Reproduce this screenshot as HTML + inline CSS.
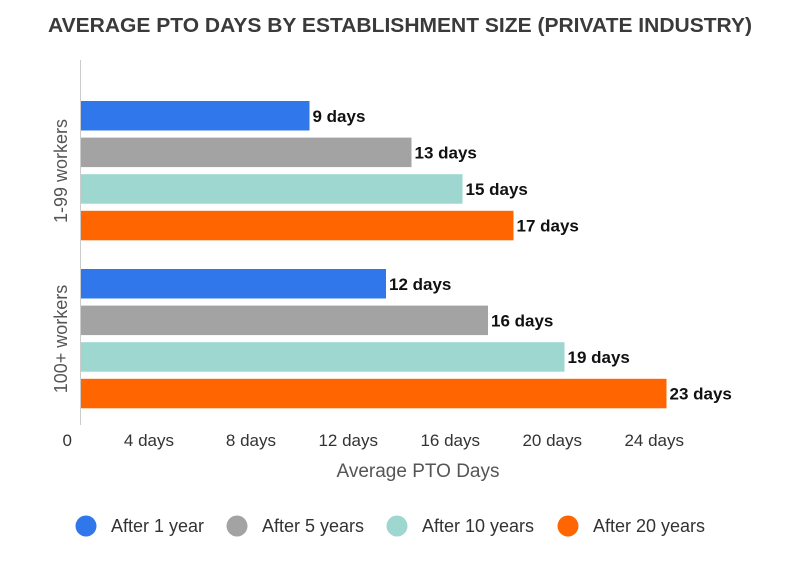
<!DOCTYPE html>
<html><head><meta charset="utf-8"><style>
body{margin:0;background:#fff;}
svg text{font-family:"Liberation Sans",sans-serif;}
</style></head><body>
<svg id="chart" width="800" height="557" viewBox="0 0 800 557">
<text x="400" y="32" text-anchor="middle" font-size="20" font-weight="bold" fill="#3a3a3a" textLength="704" lengthAdjust="spacingAndGlyphs">AVERAGE PTO DAYS BY ESTABLISHMENT SIZE (PRIVATE INDUSTRY)</text>
<line x1="80.5" y1="60" x2="80.5" y2="425" stroke="#ccc"/>
<g id="bars"></g>
<g id="ticks"></g>
<text x="418" y="477" text-anchor="middle" font-size="19" fill="#555">Average PTO Days</text>
<g id="legend"></g>
</svg>
<script>
const groups = ["1-99 workers", "100+ workers"];
const seriesNames = ["After 1 year", "After 5 years", "After 10 years", "After 20 years"];
const small = [9, 13, 15, 17];
const large = [12, 16, 19, 23];
const tickVals = [0, 4, 8, 12, 16, 20, 24];
const tickLabels = ["0", "4 days", "8 days", "12 days", "16 days", "20 days", "24 days"];
const colors = ["#2F77EB", "#A3A3A3", "#9DD7D0", "#FF6500"];
const ns = "http://www.w3.org/2000/svg";
const x0 = 80, pxPerDay = 25.5;
function xs(v){return x0 + v*pxPerDay;}
const groupTop = [101, 269], step = 36.6, bh = 29.5;
const seriesData = [small, large];
const bars = document.getElementById('bars');
function mk(tag, attrs, parent){const e=document.createElementNS(ns,tag);for(const k in attrs)e.setAttribute(k,attrs[k]);parent.appendChild(e);return e;}
groups.forEach((g, gi) => {
  const lbl = mk('text', {x:0,y:0,'text-anchor':'middle','font-size':18,fill:'#555',transform:`translate(67,${groupTop[gi]+70}) rotate(-90)`}, bars);
  
  
  lbl.textContent = g;
  seriesData[gi].forEach((v, si) => {
    const y = groupTop[gi] + si*step;
    const r = mk('rect', {x:x0+1,y:y,width:xs(v)-x0-1,height:bh,fill:colors[si]}, bars);
    
    
    const t = mk('text', {x:xs(v)+3,y:y+bh/2+6,'font-size':17,'font-weight':'bold',fill:'#111'}, bars);
    
    
    t.textContent = v + ' days';
  });
});
const ticks = document.getElementById('ticks');
tickVals.forEach((v, i) => {
  const t = mk('text', {x:xs(v)-8,y:446,'text-anchor':'end','font-size':17,fill:'#333'}, ticks);
  
  
  t.textContent = tickLabels[i];
});
const legend = document.getElementById('legend');
const lx = [86, 237, 397, 568];
seriesNames.forEach((n, i) => {
  const g = mk('g', {}, legend);
  
  
  mk('circle', {cx:lx[i],cy:526,r:10.5,fill:colors[i]}, g);
  const t = mk('text', {x:lx[i]+25,y:532,'font-size':18,fill:'#333'}, g);
  t.textContent = n;
});
</script>
</body></html>
